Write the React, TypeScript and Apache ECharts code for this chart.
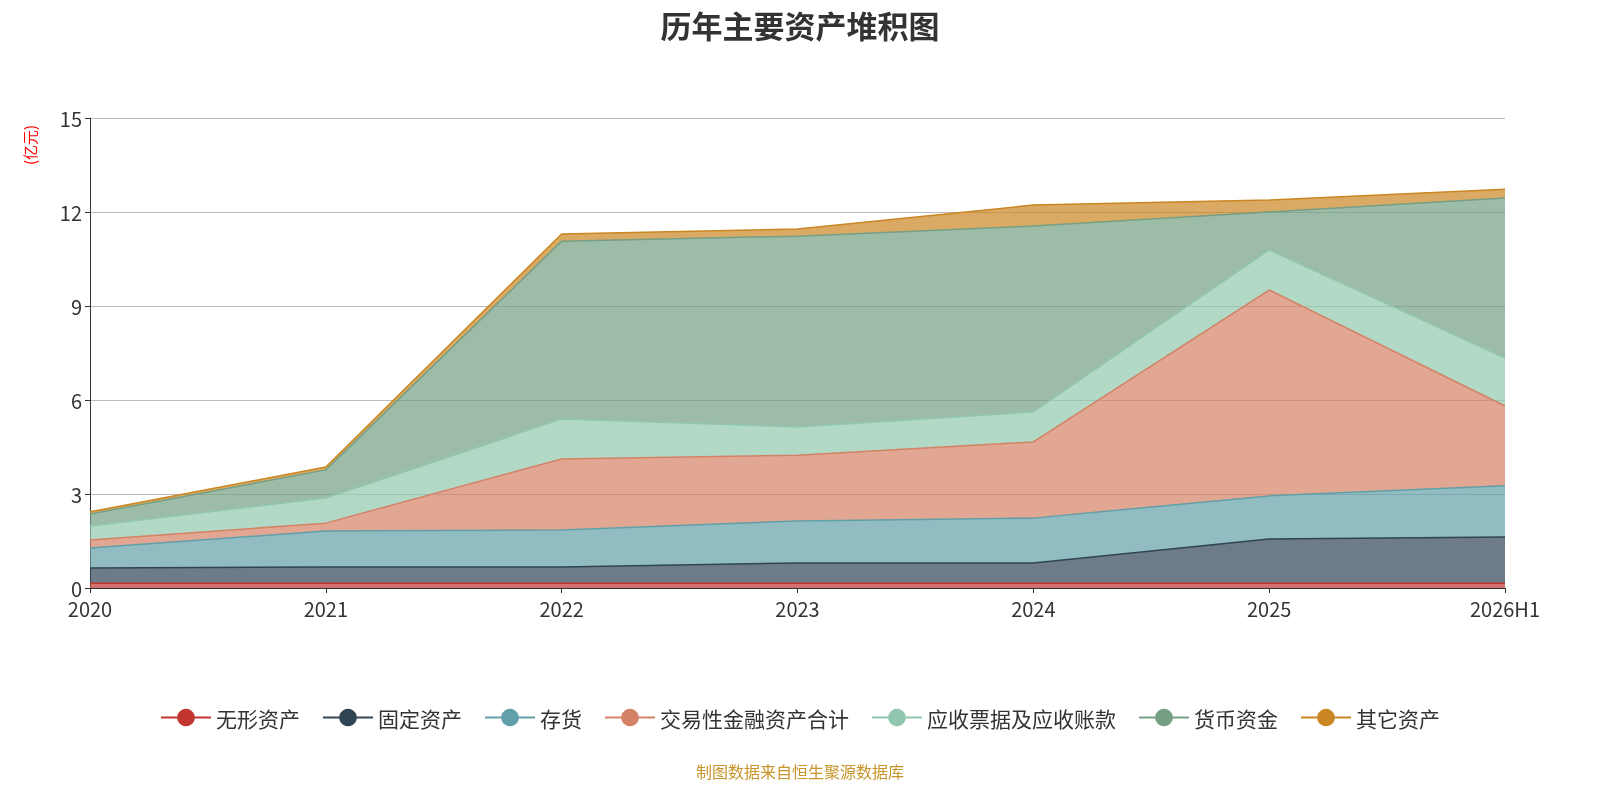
import React, { useRef, useEffect } from 'react';
import * as echarts from 'echarts';

const years = ['2020', '2021', '2022', '2023', '2024', '2025', '2026H1'];
const intangible = [0.15, 0.15, 0.15, 0.15, 0.15, 0.15, 0.15];
const fixedAssets = [0.49, 0.52, 0.52, 0.65, 0.65, 1.41, 1.48];
const inventory = [0.64, 1.15, 1.18, 1.34, 1.43, 1.38, 1.63];
const tradingFin = [0.25, 0.25, 2.27, 2.1, 2.43, 6.57, 2.55];
const receivables = [0.45, 0.8, 1.27, 0.9, 0.96, 1.28, 1.53];
const cash = [0.38, 0.9, 5.68, 6.09, 5.93, 1.21, 5.11];
const others = [0.07, 0.09, 0.23, 0.23, 0.67, 0.38, 0.28];

const seriesDefs: [string, number[], string][] = [
  ['无形资产', intangible, '#c23531'],
  ['固定资产', fixedAssets, '#2f4554'],
  ['存货', inventory, '#61a0a8'],
  ['交易性金融资产合计', tradingFin, '#d48265'],
  ['应收票据及应收账款', receivables, '#91c7ae'],
  ['货币资金', cash, '#749f83'],
  ['其它资产', others, '#ca8622'],
];

const App: React.FC = () => {
  const ref = useRef<HTMLDivElement>(null);

  useEffect(() => {
    if (!ref.current) return;
    const chart = echarts.init(ref.current, null, { renderer: 'svg' });
    chart.setOption({
      animation: false,
      textStyle: { fontFamily: 'Noto Sans CJK SC' },
      title: {
        text: '历年主要资产堆积图',
        left: 'center',
        top: 4,
        textStyle: { fontSize: 31, fontWeight: 'bold', color: '#333' },
      },
      graphic: [
        {
          type: 'text',
          left: 'center',
          top: 763,
          style: { text: '制图数据来自恒生聚源数据库', fill: '#c8952a', font: '16px "Noto Sans CJK SC"' },
        },
        {
          type: 'text',
          x: 22,
          y: 165,
          rotation: Math.PI / 2,
          style: { text: '(亿元)', fill: 'red', font: '15px "Noto Sans CJK SC"' },
        },
      ],
      legend: {
        top: 702,
        itemWidth: 50,
        itemHeight: 22,
        itemGap: 22,
        textStyle: { fontSize: 21, color: '#333' },
        data: seriesDefs.map(s => s[0]),
      },
      grid: { left: 90, right: 95, top: 118, bottom: 212 },
      xAxis: {
        type: 'category',
        boundaryGap: false,
        data: years,
        axisLine: { lineStyle: { color: '#333' } },
        axisTick: { lineStyle: { color: '#333' } },
        axisLabel: { fontSize: 20, color: '#333', margin: 10 },
      },
      yAxis: {
        type: 'value',
        min: 0,
        max: 15,
        interval: 3,
        axisLine: { show: true, lineStyle: { color: '#333' } },
        axisTick: { show: true, lineStyle: { color: '#333' } },
        axisLabel: { fontSize: 20, color: '#333' },
        splitLine: { lineStyle: { color: '#bbb' } },
      },
      series: seriesDefs.map(([name, data, color]) => ({
        name,
        type: 'line',
        stack: 'total',
        data,
        symbol: 'circle',
        showSymbol: false,
        itemStyle: { color },
        lineStyle: { width: 1.5, color },
        areaStyle: { color, opacity: 0.7 },
      })),
    });
    return () => chart.dispose();
  }, []);

  return <div ref={ref} style={{ position: 'fixed', left: 0, top: 0, width: 1600, height: 800 }} />;
};

export default App;
